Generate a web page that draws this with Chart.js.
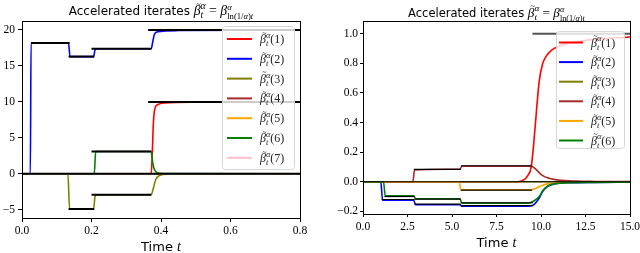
<!DOCTYPE html>
<html>
<head>
<meta charset="utf-8">
<script src="https://cdn.jsdelivr.net/npm/chart.js@4"></script>
<style>
  body { margin: 0; background: #fff; }
  .pane { position: absolute; top: 0; width: 320px; height: 253px; }
  #leftPane { left: 0; }
  #rightPane { left: 320px; }
</style>
</head>
<body>
<div class="pane" id="leftPane"><canvas id="leftChart" width="320" height="253"></canvas></div>
<div class="pane" id="rightPane"><canvas id="rightChart" width="320" height="253"></canvas></div>
<script>
// tick labels
const leftXTicks = [0, 0.2, 0.4, 0.6, 0.8];
const leftYTicks = [-5, 0, 5, 10, 15, 20];
const rightXTicks = [0, 2.5, 5, 7.5, 10, 12.5, 15];
const rightYTicks = [-0.2, 0, 0.2, 0.4, 0.6, 0.8, 1.0];

// coordinate names (legend)
const coordLabels = ['(1)', '(2)', '(3)', '(4)', '(5)', '(6)', '(7)'];
const coordColors = ['#ff0000', '#0000ff', '#808000', '#a52a2a', '#ffa500', '#008000', '#ffc0cb'];

// left panel, [time, value]
const left1 = [[0, 0], [0.372, 0], [0.375, 3], [0.378, 7], [0.382, 9.0], [0.39, 9.6], [0.41, 9.85], [0.5, 9.97], [0.8, 10]];
const left2 = [[0, 0], [0.024, 0], [0.026, 18.2], [0.134, 18.2], [0.138, 16.3], [0.206, 16.3], [0.21, 17.2], [0.213, 17.4],
               [0.372, 17.4], [0.376, 18.3], [0.381, 19.4], [0.39, 19.75], [0.45, 19.92], [0.8, 20]];
const left3 = [[0, 0], [0.132, 0], [0.137, -4.9], [0.206, -4.9], [0.21, -3.2], [0.214, -2.95], [0.372, -2.9],
               [0.378, -2.0], [0.385, -0.8], [0.395, -0.25], [0.42, -0.05], [0.8, 0]];
const left4 = [[0, 0], [0.8, 0]];
const left5 = [[0, 0], [0.8, 0]];
const left6 = [[0, 0], [0.208, 0], [0.212, 3.1], [0.372, 3.1], [0.376, 1.6], [0.381, 0.6], [0.39, 0.15], [0.42, 0.02], [0.8, 0]];
const left7 = [[0, 0], [0.8, 0]];
// black limit levels, [value, tStart, tEnd]
const leftLimits = [[0, 0, 0.8], [18.2, 0.026, 0.137], [16.3, 0.134, 0.208], [17.4, 0.2, 0.372], [20, 0.363, 0.8],
                    [10, 0.363, 0.8], [3.1, 0.2, 0.372], [-4.9, 0.134, 0.208], [-2.93, 0.2, 0.372]];

// right panel, [time, value]
const right1 = [[0, 0], [8.7, 0], [9.0, 0.01], [9.25, 0.04], [9.45, 0.1], [9.6, 0.27], [9.76, 0.5], [9.9, 0.68], [10.1, 0.8],
                [10.3, 0.85], [10.6, 0.89], [11, 0.915], [11.6, 0.937], [12.5, 0.955], [13.5, 0.967], [15, 0.978]];
const right2 = [[0, 0], [1.0, 0], [1.1, -0.125], [2.85, -0.125], [2.95, -0.155], [5.45, -0.155], [5.55, -0.165], [9.3, -0.165],
                [9.6, -0.155], [9.9, -0.11], [10.1, -0.065], [10.4, -0.03], [10.8, -0.014], [11.5, -0.007], [13, -0.004], [15, -0.003]];
const right3 = [[0, 0], [15, 0]];
const right4 = [[0, 0], [2.8, 0], [2.9, 0.08], [5.45, 0.085], [5.55, 0.105], [9.45, 0.105], [9.7, 0.085], [10.05, 0.045],
                [10.5, 0.022], [11, 0.011], [12, 0.004], [13, 0.002], [15, 0.001]];
const right5 = [[0, 0], [5.4, 0], [5.5, -0.055], [9.4, -0.055], [9.7, -0.045], [10.0, -0.028], [10.3, -0.016], [10.8, -0.008],
                [11.5, -0.004], [13, -0.002], [15, -0.001]];
const right6 = [[0, 0], [1.15, 0], [1.25, -0.095], [2.85, -0.095], [2.95, -0.115], [5.45, -0.115], [5.55, -0.145], [9.3, -0.145],
                [9.6, -0.13], [9.9, -0.1], [10.1, -0.06], [10.4, -0.027], [10.8, -0.013], [11.5, -0.007], [13, -0.004], [15, -0.003]];
const rightLimits = [[0, 0, 15], [1.0, 9.52, 15], [-0.12, 1.05, 2.9], [-0.151, 2.9, 5.5], [-0.162, 5.5, 9.55],
                     [-0.1, 1.2, 2.9], [-0.118, 2.9, 5.5], [-0.142, 5.5, 9.55], [0.083, 2.85, 5.5], [0.108, 5.5, 9.5],
                     [-0.057, 5.5, 9.5]];

const SERIF = '"Liberation Serif", "DejaVu Serif", serif';
const SANS = '"DejaVu Sans", sans-serif';

// little helper for drawing TeX-ish text as runs of pieces
function pieceWidth(ctx, p) {
    if (p.sup) return Math.max(seqWidth(ctx, p.sup), seqWidth(ctx, p.sub));
    ctx.font = p.font;
    return ctx.measureText(p.s).width;
}
function seqWidth(ctx, seq) {
    return seq.reduce((a, p) => a + pieceWidth(ctx, p), 0);
}
function drawSeq(ctx, seq, x, y) {
    for (const p of seq) {
        const w = pieceWidth(ctx, p);
        if (p.sup) {
            drawSeq(ctx, p.sup, x, y - p.up);
            drawSeq(ctx, p.sub, x, y + p.down);
        } else {
            ctx.font = p.font;
            ctx.fillText(p.s, x, y);
            if (p.tilde) {
                ctx.font = p.tildeFont;
                const tw = ctx.measureText('~').width;
                ctx.fillText('~', x + w / 2 - tw / 2 + 1.5, y - p.tildeUp);
            }
        }
        x += w;
    }
}

function betaTilde(size) {
    return [
        {s: 'β', font: `italic ${size}px ${SERIF}`, tilde: true, tildeFont: `${size * 0.62}px ${SERIF}`, tildeUp: size * 0.6},
        {sup: [{s: 'α', font: `italic ${size * 0.7}px ${SERIF}`}],
         sub: [{s: 't', font: `italic ${size * 0.7}px ${SERIF}`}], up: size * 0.42, down: size * 0.25}
    ];
}

function titleSeq(size) {
    const small = size * 0.72;
    return [
        {s: 'Accelerated iterates ', font: `${size}px ${SANS}`},
        ...betaTilde(size * 1.15),
        {s: ' = ', font: `${size * 1.15}px ${SERIF}`},
        {s: 'β', font: `italic ${size * 1.15}px ${SERIF}`},
        {sup: [{s: 'α', font: `italic ${small}px ${SERIF}`}],
         sub: [{s: 'ln(1/', font: `${small}px ${SERIF}`}, {s: 'α', font: `italic ${small}px ${SERIF}`},
               {s: ')', font: `${small}px ${SERIF}`}, {s: 't', font: `italic ${small}px ${SERIF}`}],
         up: size * 0.45, down: size * 0.32}
    ];
}

const frameAndText = {
    id: 'frameAndText',
    afterDatasetsDraw(chart, args, opts) {
        const ctx = chart.ctx;
        // legend
        const lg = opts.legend;
        ctx.save();
        ctx.beginPath();
        ctx.roundRect(lg.x + 0.5, lg.y + 0.5, lg.w, lg.h, 3);
        ctx.fillStyle = 'rgba(255,255,255,0.8)';
        ctx.fill();
        ctx.strokeStyle = '#d6d6d6';
        ctx.lineWidth = 1;
        ctx.stroke();
        for (let i = 0; i < lg.count; i++) {
            const yy = lg.y + lg.first + i * lg.step;
            ctx.strokeStyle = coordColors[i];
            ctx.lineWidth = 2;
            ctx.beginPath();
            ctx.moveTo(lg.x + lg.lineX0, yy);
            ctx.lineTo(lg.x + lg.lineX1, yy);
            ctx.stroke();
            ctx.fillStyle = '#222';
            ctx.textBaseline = 'alphabetic';
            drawSeq(ctx, [...betaTilde(12), {s: coordLabels[i], font: `12px ${SERIF}`}], lg.x + lg.textX, yy + 4);
        }
        ctx.restore();
    },
    afterDraw(chart, args, opts) {
        const ctx = chart.ctx;
        const a = chart.chartArea;
        ctx.save();
        ctx.strokeStyle = '#000';
        ctx.lineWidth = 1;
        ctx.strokeRect(Math.round(a.left) + 0.5, Math.round(a.top) + 0.5,
                       Math.round(a.right) - Math.round(a.left), Math.round(a.bottom) - Math.round(a.top));
        ctx.fillStyle = '#000';
        ctx.textBaseline = 'alphabetic';
        const cx = (a.left + a.right) / 2;
        const ts = titleSeq(opts.titleSize);
        drawSeq(ctx, ts, cx - seqWidth(ctx, ts) / 2, opts.titleY);
        const xs = [{s: 'Time ', font: `13px ${SANS}`}, {s: 't', font: `italic 14px ${SERIF}`}];
        drawSeq(ctx, xs, cx - seqWidth(ctx, xs) / 2, opts.xTitleY);
        ctx.restore();
    }
};

function fmtMinus(s) {
    return s.replace('-', '\u2212');
}

function buildChart(id, cfg) {
    const datasets = [];
    cfg.series.forEach((pts, i) => {
        datasets.push({
            data: pts.map(p => ({x: p[0], y: p[1]})),
            borderColor: coordColors[i],
            borderWidth: 1.6,
            cubicInterpolationMode: 'monotone',
            pointRadius: 0,
            order: 20 - i
        });
    });
    cfg.limits.forEach(l => {
        const grey = l[0] === cfg.greyLevel;
        datasets.push({
            data: [{x: l[1], y: l[0]}, {x: l[2], y: l[0]}],
            borderColor: grey ? '#555' : '#000',
            borderWidth: grey ? 2 : cfg.limitWidth,
            pointRadius: 0,
            order: 1
        });
    });
    const tickFont = {family: SERIF, size: 11.5};
    return new Chart(document.getElementById(id), {
        type: 'line',
        data: {datasets},
        plugins: [frameAndText],
        options: {
            responsive: false,
            animation: false,
            devicePixelRatio: 1,
            layout: {padding: {left: 0, top: 21, right: cfg.padRight, bottom: 0}},
            plugins: {
                legend: {display: false},
                tooltip: {enabled: false},
                frameAndText: {legend: cfg.legend, titleSize: cfg.titleSize, titleY: cfg.titleY, xTitleY: cfg.xTitleY}
            },
            scales: {
                x: {
                    type: 'linear',
                    min: cfg.xMin, max: cfg.xMax,
                    border: {display: false},
                    grid: {drawOnChartArea: false, drawTicks: true, tickLength: cfg.tickLen, color: '#000'},
                    afterBuildTicks: s => { s.ticks = cfg.xTicks.map(v => ({value: v})); },
                    afterFit: s => { s.height = cfg.xHeight; s.paddingLeft = 0; s.paddingRight = 0; },
                    ticks: {autoSkip: false, maxRotation: 0, padding: cfg.xPad, color: '#000', font: tickFont,
                            callback: v => fmtMinus(v.toFixed(1))}
                },
                y: {
                    min: cfg.yMin, max: cfg.yMax,
                    border: {display: false},
                    grid: {drawOnChartArea: false, drawTicks: true, tickLength: cfg.tickLen, color: '#000'},
                    afterBuildTicks: s => { s.ticks = cfg.yTicks.map(v => ({value: v})); },
                    afterFit: s => { s.width = cfg.yWidth; s.paddingTop = 0; s.paddingBottom = 0; },
                    ticks: {autoSkip: false, padding: cfg.yPad, color: '#000', font: tickFont,
                            callback: v => fmtMinus(cfg.yFmt(v))}
                }
            }
        }
    });
}

buildChart('leftChart', {
    series: [left1, left2, left3, left4, left5, left6, left7],
    limits: leftLimits, limitWidth: 2, greyLevel: null,
    xMin: 0, xMax: 0.8, yMin: -6.15, yMax: 21.25,
    xTicks: leftXTicks, yTicks: leftYTicks,
    yFmt: v => String(v),
    padRight: 20, yWidth: 22, xHeight: 35, tickLen: 4, xPad: 2, yPad: 3,
    titleSize: 12, titleY: 15, xTitleY: 250.5,
    legend: {x: 222, y: 26, w: 72, h: 143, count: 7, first: 13, step: 19.8, lineX0: 5, lineX1: 30, textX: 38}
});

buildChart('rightChart', {
    series: [right1, right2, right3, right4, right5, right6],
    limits: rightLimits, limitWidth: 1.2, greyLevel: 1.0,
    xMin: 0, xMax: 15, yMin: -0.218, yMax: 1.086,
    xTicks: rightXTicks, yTicks: rightYTicks,
    yFmt: v => v.toFixed(1),
    padRight: 10, yWidth: 43, xHeight: 39, tickLen: 3, xPad: 3, yPad: 2,
    titleSize: 11.5, titleY: 17, xTitleY: 247,
    legend: {x: 236, y: 31, w: 68, h: 117, count: 6, first: 11.5, step: 19.6, lineX0: 3, lineX1: 27, textX: 35}
});
</script>
</body>
</html>
